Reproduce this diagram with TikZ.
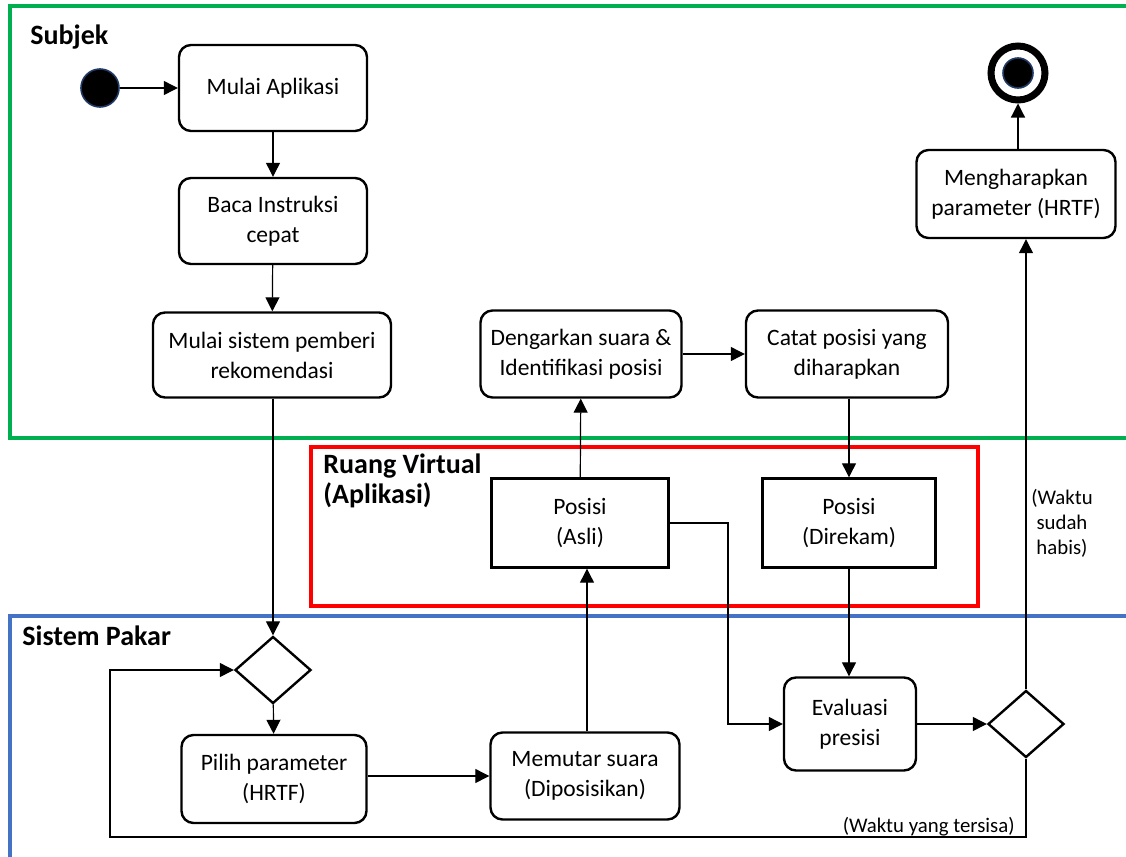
\documentclass[tikz,border=0pt]{standalone}
\usepackage{fontspec}
\setmainfont{Carlito}
\usetikzlibrary{arrows.meta,shapes.geometric}

\definecolor{lanehijau}{RGB}{0,176,80}
\definecolor{lanebiru}{RGB}{68,114,196}
\definecolor{tepibiru}{RGB}{31,56,100}

\tikzset{
  aksi/.style={draw,line width=1.2pt,rounded corners=6pt,align=center,
    font=\fontsize{11.75}{15}\selectfont,inner sep=2pt},
  objek/.style={draw,line width=1.2pt,align=center,
    font=\fontsize{11.75}{15}\selectfont,inner sep=2pt},
  keputusan/.style={diamond,draw,line width=1.2pt,minimum width=38pt,
    minimum height=33.5pt,inner sep=0pt},
  alur/.style={line width=0.6pt,-{Triangle[length=7pt,width=7pt]}},
  judul/.style={font=\fontsize{14}{17}\bfseries\selectfont,anchor=base west,inner sep=0pt},
  ket/.style={font=\fontsize{10.4}{12.5}\selectfont,align=center,inner sep=0pt},
}

\begin{document}
\begin{tikzpicture}[x=0.5pt,y=-0.5pt]
\useasboundingbox (0,0) rectangle (1126,857);

% swimlanes
\draw[lanehijau,line width=2pt] (1126,6) -- (10,6) -- (10,438) -- (1126,438);
\draw[red,line width=2pt] (311,447) rectangle (978,606);
\draw[lanebiru,line width=2pt] (1126,616) -- (10,616) -- (10,857);

\node[judul] at (30,44) {Subjek};
\node[judul] at (323,473) {Ruang Virtual};
\node[judul] at (323,503) {(Aplikasi)};
\node[judul] at (22,645) {Sistem Pakar};

% start and end
\node[circle,fill=black,draw=tepibiru,line width=0.8pt,minimum size=19pt,inner sep=0pt] (mulai) at (100,88) {};
\node[circle,draw=black,line width=3.5pt,minimum size=27pt,inner sep=0pt] (selesai) at (1018,73) {};
\node[circle,fill=black,draw=tepibiru,line width=0.8pt,minimum size=15pt,inner sep=0pt] at (selesai) {};

% subjek
\node[aksi,minimum width=94pt,minimum height=43pt] (aplikasi) at (273,88) {Mulai Aplikasi};
\node[aksi,minimum width=94pt,minimum height=43pt] (instruksi) at (273,221) {Baca Instruksi\\cepat};
\node[aksi,minimum width=119pt,minimum height=42.5pt] (sistem) at (272,355) {Mulai sistem pemberi\\rekomendasi};
\node[aksi,minimum width=100.5pt,minimum height=43.5pt] (dengar) at (581,354) {Dengarkan suara \&\\Identifikasi posisi};
\node[aksi,minimum width=101pt,minimum height=43.5pt] (catat) at (847,354) {Catat posisi yang\\diharapkan};
\node[aksi,minimum width=99.5pt,minimum height=44pt] (harap) at (1016,194) {Mengharapkan\\parameter (HRTF)};

% ruang virtual
\node[objek,minimum width=88.5pt,minimum height=44.5pt] (asli) at (580,523) {Posisi\\(Asli)};
\node[objek,minimum width=86.5pt,minimum height=44.5pt] (rekam) at (849,523) {Posisi\\(Direkam)};

% sistem pakar
\node[keputusan] (pilihan) at (273,670) {};
\node[aksi,minimum width=92.5pt,minimum height=44pt] (pilih) at (274,779) {Pilih parameter\\(HRTF)};
\node[aksi,minimum width=94.5pt,minimum height=43.5pt] (putar) at (585,776) {Memutar suara\\(Diposisikan)};
\node[aksi,minimum width=66pt,minimum height=46.5pt] (evaluasi) at (850,724) {Evaluasi\\presisi};
\node[keputusan] (waktu) at (1026,724) {};

\coordinate (balik) at (110,837);

% alur
\draw[alur] (mulai) -- (aplikasi);
\draw[alur] (aplikasi) -- (instruksi);
\draw[alur] (instruksi) -- (sistem);
\draw[alur] (sistem.south -| pilihan.north) -- (pilihan.north);
\draw[alur] (pilihan) -- (pilih);
\draw[alur] (pilih.east |- putar) -- (putar);
\draw[alur] (putar.north -| 587,0) -- (asli.south -| 587,0);
\draw[alur] (asli) -- (dengar);
\draw[alur] (dengar) -- (catat);
\draw[alur] (catat.south -| rekam) -- (rekam);
\draw[alur] (rekam) -- (rekam |- evaluasi.north);
\draw[alur] (asli.east) -- (728,523) |- (evaluasi.west);
\draw[alur] (evaluasi) -- (waktu);
\draw[alur] (waktu.north) -- (waktu.north |- harap.south);
\draw[alur] (harap.north -| selesai) -- (selesai);
\draw[alur] (waktu.south) |- (balik) |- (pilihan.west);

\node[ket] at (1062,523) {(Waktu\\sudah\\habis)};
\node[ket,anchor=base east] at (1015,832) {(Waktu yang tersisa)};

\end{tikzpicture}
\end{document}
